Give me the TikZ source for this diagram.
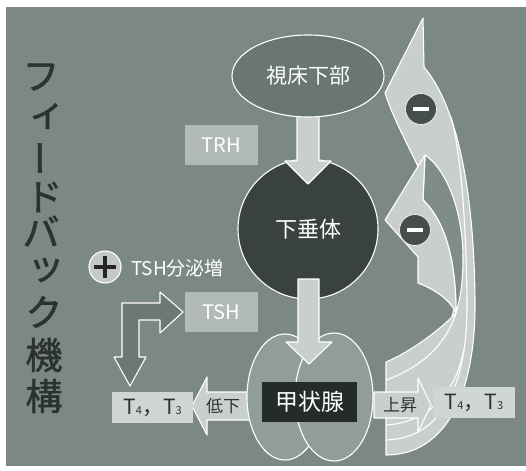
\documentclass[tikz,border=0pt]{standalone}
\usepackage{fontspec}
\setmainfont{Noto Sans CJK JP}
\newfontfamily\titlefont[FakeBold=1.5]{Noto Sans CJK JP}
\usetikzlibrary{shapes.geometric}
\definecolor{bg}{HTML}{7B8884}
\definecolor{hypofill}{HTML}{6A7672}
\definecolor{pitfill}{HTML}{3A4240}
\definecolor{lobefill}{HTML}{919D99}
\definecolor{glandfill}{HTML}{252B2A}
\definecolor{lightfill}{HTML}{C9D0CC}
\definecolor{graybox}{HTML}{B2BAB6}
\definecolor{palebox}{HTML}{D0D6D3}
\definecolor{elbowfill}{HTML}{6D7875}
\definecolor{minusfill}{HTML}{454E4B}
\definecolor{shadefill}{HTML}{808C89}
\definecolor{plusfill}{HTML}{C3CAC6}
\definecolor{titlecol}{HTML}{2C3231}
\definecolor{darktext}{HTML}{2E3433}
\newcommand{\hsub}[1]{{\fontsize{11}{11}\selectfont #1}}
\begin{document}
\begin{tikzpicture}[x=1pt,y=-1pt,
  outl/.style={draw=white, line width=1.1pt, line join=round},
  blockarrow/.style={outl, fill=lightfill},
  titlechar/.style={text=titlecol, font=\titlefont\fontsize{37}{37}\selectfont, inner sep=0},
  labelbox/.style={fill=graybox, text=white, font=\fontsize{20}{20}\selectfont, inner sep=0},
  palelabel/.style={fill=palebox, text=darktext, font=\fontsize{21}{21}\selectfont, inner sep=0},
  minusnode/.style={circle, fill=minusfill, draw=white!85!gray, line width=0.8pt, minimum size=31pt, inner sep=0},
  lobe/.style={ellipse, outl, fill=lobefill, inner sep=0},
]
\useasboundingbox (0,0) rectangle (526,470);
\fill[white] (0,0) rectangle (526,470);
\fill[bg] (6,7) rectangle (526,466);

% vertical title
\node[titlechar] (c1) at (41,77) {フ};
\node[titlechar] (c2) at (47,116) {ィ};
\node[titlechar, rotate=90] (c3) at (46,158) {ー};
\node[titlechar] (c4) at (44,197) {ド};
\node[titlechar] (c5) at (41,231) {バ};
\node[titlechar] (c6) at (46,270) {ッ};
\node[titlechar] (c7) at (44,312) {ク};
\node[titlechar] (c8) at (44,355) {機};
\node[titlechar] (c9) at (44,396) {構};

% curved feedback arrows
\draw[blockarrow] (424,67) -- (423,18) -- (385,93)
  .. controls (400,140) and (438,190) .. (455,270)
  .. controls (462,320) and (440,358) .. (386,380)
  -- (386,455)
  .. controls (445,455) and (476,395) .. (475,300)
  .. controls (474,200) and (460,110) .. (424,67) -- cycle;
\draw[outl] (386,440) .. controls (440,438) and (468,390) .. (467,300) .. controls (466,215) and (460,150) .. (451,117);
\draw[outl] (386,425) .. controls (430,422) and (456,392) .. (464,349);
\draw[outl, fill=shadefill] (425,155) .. controls (447,170) and (463,212) .. (463,258) .. controls (463,283) and (460,300) .. (456,313) .. controls (456,262) and (446,222) .. (423,200) -- cycle;
\draw[blockarrow] (423,200) -- (425,155) -- (385,220) -- (418,257) -- (418,283) .. controls (436,290) and (450,300) .. (456,313) .. controls (456,262) and (446,222) .. (423,200) -- cycle;
\draw[blockarrow] (456,313) .. controls (440,330) and (410,352) .. (386,362) -- (386,380) .. controls (420,368) and (446,345) .. (456,313) -- cycle;
\node[minusnode] (m1) at (421,109) {};
\fill[white] ([xshift=-8pt,yshift=-2pt]m1.center) rectangle ([xshift=8pt,yshift=2pt]m1.center);
\node[minusnode] (m2) at (415,230) {};
\fill[white] ([xshift=-8pt,yshift=-2pt]m2.center) rectangle ([xshift=8pt,yshift=2pt]m2.center);

% side arrows
\draw[blockarrow] (374,392) -- (418,392) -- (418,378) -- (431,405) -- (418,432) -- (418,418) -- (374,418) -- cycle;
\node[text=darktext, font=\fontsize{17}{17}\selectfont, inner sep=0] (up) at (400,405) {上昇};
\draw[blockarrow] (250,392) -- (207,392) -- (207,377) -- (192,406) -- (207,435) -- (207,420) -- (250,420) -- cycle;
\node[text=darktext, font=\fontsize{17}{17}\selectfont, inner sep=0] (low) at (223,406) {低下};

% thyroid
\node[lobe, minimum width=76pt, minimum height=126pt] (lobeL) at (285,397) {};
\node[lobe, minimum width=78pt, minimum height=128pt] (lobeR) at (334,397) {};

% hypothalamus and pituitary
\node[circle, outl, fill=pitfill, minimum size=140pt, inner sep=0, text=white, font=\fontsize{22}{22}\selectfont] (pit) at (308,229) {下垂体};
\draw[blockarrow] (297,100) -- (319,100) -- (319,161) -- (331,161) -- (308,184) -- (285,161) -- (297,161) -- cycle;
\node[ellipse, outl, fill=hypofill, minimum width=152pt, minimum height=82pt, inner sep=0, text=white, font=\fontsize{21}{21}\selectfont] (hypo) at (308,76) {視床下部};
\draw[blockarrow] (298,279) -- (319,279) -- (319,342) -- (332,342) -- (309,364) -- (286,342) -- (298,342) -- cycle;
\node[fill=glandfill, minimum width=95pt, minimum height=40pt, inner sep=0, text=white, font=\fontsize{23}{23}\selectfont] (gland) at (309.5,402) {甲状腺};

% labels
\node[labelbox, minimum width=73pt, minimum height=40pt] (trh) at (221.5,145) {TRH};
\node[labelbox, minimum width=73pt, minimum height=40pt] (tsh) at (221.5,312) {TSH};
\node[palelabel, minimum width=81pt, minimum height=31pt] (tl) at (152.5,407.5) {T\hsub{4}，T\hsub{3}};
\node[palelabel, minimum width=82pt, minimum height=31pt] (tr) at (474,402.5) {T\hsub{4}，T\hsub{3}};

% TSH increase
\node[circle, outl, fill=plusfill, minimum size=32pt, inner sep=0] (plus) at (105,267) {};
\draw[line width=3.5pt, black!85] ([xshift=-11pt]plus.center) -- ([xshift=11pt]plus.center);
\draw[line width=3.5pt, black!85] ([yshift=-11pt]plus.center) -- ([yshift=11pt]plus.center);
\node[anchor=west, text=white, font=\fontsize{19}{19}\selectfont, inner sep=0] (tshup) at (131,268) {TSH分泌増};
\draw[outl, fill=elbowfill] (122,303) -- (160,303) -- (160,292) -- (183,312) -- (160,333) -- (160,320) -- (139,320) -- (139,357) -- (146,357) -- (130,386) -- (114,357) -- (122,357) -- cycle;
\end{tikzpicture}
\end{document}
